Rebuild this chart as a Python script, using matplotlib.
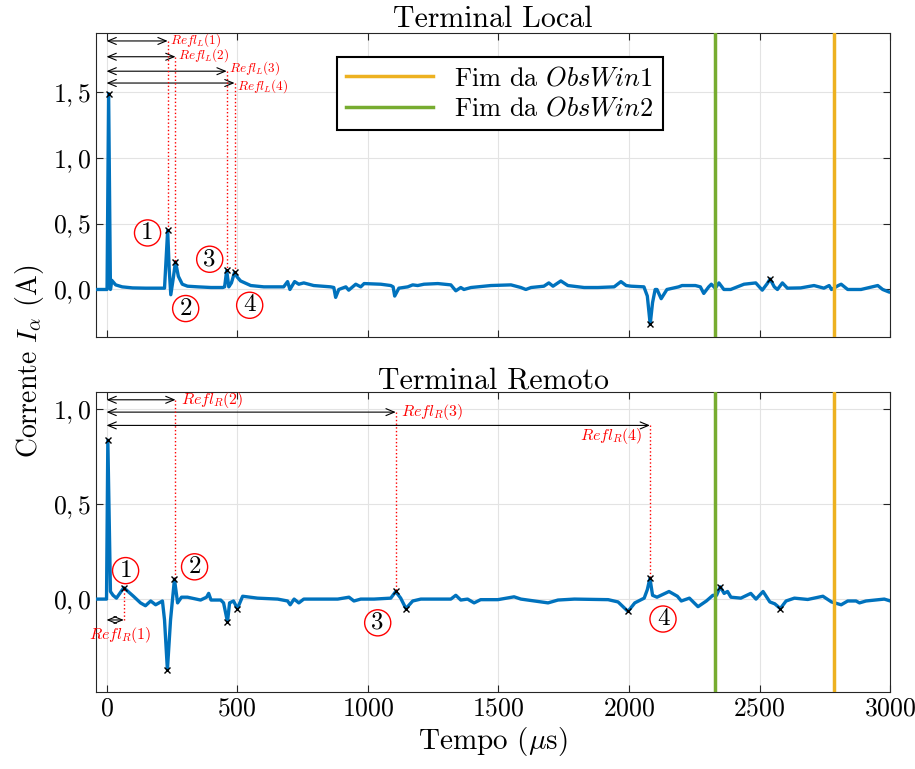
import numpy as np
import matplotlib
matplotlib.use("Agg")
import matplotlib.pyplot as plt
from matplotlib.ticker import FixedLocator, FixedFormatter

plt.rcParams['font.family'] = 'serif'
plt.rcParams['font.serif'] = ['cmr10']
plt.rcParams['mathtext.fontset'] = 'cm'
plt.rcParams['axes.unicode_minus'] = False
plt.rcParams['axes.formatter.use_mathtext'] = True

# ---- data ----
t_local = [-40, 2, 8, 15, 20, 35, 60, 100, 150, 200, 222, 234, 240, 246, 255, 264, 275, 290,
           310, 350, 400, 445, 452, 460, 468, 478, 490, 500, 513, 552, 602, 678, 693, 702,
           720, 736, 755, 793, 858, 870, 877, 889, 916, 927, 954, 973, 986, 1050, 1088, 1097,
           1103, 1119, 1153, 1172, 1191, 1215, 1268, 1318, 1337, 1356, 1368, 1395, 1471, 1548,
           1586, 1605, 1625, 1674, 1693, 1709, 1739, 1766, 1828, 1881, 1943, 1969, 1989, 2008,
           2057, 2070, 2081, 2090, 2100, 2107, 2123, 2145, 2190, 2203, 2254, 2273, 2286, 2305,
           2315, 2330, 2344, 2363, 2389, 2440, 2485, 2510, 2529, 2540, 2556, 2568, 2587, 2606,
           2657, 2708, 2746, 2766, 2775, 2801, 2812, 2837, 2888, 2952, 2971, 2996, 3000]
i_local = [0.0, 0.0, 1.49, 0.0, 0.07, 0.035, 0.02, 0.012, 0.01, 0.01, 0.01, 0.45, 0.15, -0.04,
           0.08, 0.21, 0.1, 0.04, 0.025, 0.02, 0.015, 0.015, 0.02, 0.145, 0.02, 0.05, 0.13,
           0.095, 0.065, 0.03, 0.02, 0.02, 0.06, 0.0, 0.06, 0.04, 0.05, 0.03, 0.02, 0.015, -0.06,
           0.0, 0.02, -0.005, 0.04, 0.02, 0.045, 0.04, 0.03, 0.02, -0.05, 0.01, 0.02, 0.035,
           0.03, 0.04, 0.045, 0.035, -0.01, 0.015, 0.0, 0.015, 0.03, 0.035, 0.015, 0.0, 0.015,
           0.025, 0.05, 0.025, 0.065, 0.03, 0.015, 0.015, 0.02, 0.06, 0.03, 0.025, 0.02, -0.05,
           -0.265, -0.1, 0.0, 0.0, -0.07, 0.0, 0.02, 0.03, 0.03, 0.02, -0.03, 0.02, 0.04, 0.01,
           0.05, 0.0, 0.0, 0.04, 0.05, -0.005, 0.045, 0.08, 0.02, 0.0, 0.05, 0.01, 0.012, 0.03,
           0.01, 0.03, 0.0, 0.03, 0.04, 0.0, 0.0, 0.03, 0.0, -0.02, -0.02]

t_remote = [-40, 0, 5, 15, 25, 38, 66, 103, 130, 149, 169, 188, 214, 222, 233, 245, 260, 272,
            287, 310, 360, 383, 391, 400, 437, 448, 463, 471, 486, 501, 521, 578, 655, 693, 703,
            718, 736, 755, 832, 885, 928, 947, 973, 1024, 1088, 1107, 1126, 1146, 1172, 1203,
            1318, 1337, 1356, 1382, 1407, 1432, 1498, 1560, 1586, 1690, 1728, 1791, 1920, 1958,
            1996, 2022, 2058, 2070, 2080, 2090, 2107, 2153, 2185, 2200, 2231, 2264, 2296, 2321,
            2335, 2349, 2364, 2377, 2390, 2428, 2466, 2486, 2513, 2539, 2558, 2579, 2601, 2633,
            2684, 2742, 2775, 2812, 2837, 2869, 2882, 2907, 2977, 3000]
i_remote = [0.0, 0.0, 0.837, 0.04, 0.02, 0.005, 0.06, 0.015, -0.02, -0.035, -0.01, -0.03,
            -0.01, -0.11, -0.373, -0.11, 0.105, -0.02, 0.01, 0.01, -0.005, 0.01, 0.03, -0.005,
            -0.005, -0.02, -0.12, -0.02, -0.01, -0.05, 0.015, 0.005, 0.0, -0.01, -0.03, 0.0,
            -0.02, 0.0, 0.0, 0.0, 0.01, -0.01, 0.0, 0.0, 0.005, 0.04, 0.005, -0.05, -0.01, 0.0,
            0.0, 0.02, -0.005, 0.0, -0.02, -0.003, -0.003, 0.012, 0.0, -0.02, -0.005, 0.0,
            -0.003, -0.015, -0.065, -0.02, 0.005, 0.05, 0.11, 0.02, 0.01, 0.04, 0.015, -0.01,
            0.005, -0.04, -0.01, 0.02, 0.02, 0.065, 0.03, 0.04, 0.01, 0.005, 0.03, 0.0, 0.04,
            -0.015, -0.025, -0.05, -0.01, 0.005, -0.002, 0.015, -0.015, -0.03, -0.01, -0.01,
            -0.02, -0.01, 0.0, -0.01]

# detected peaks (x markers)
pk_local_t = [8, 234, 264, 460, 490, 2081, 2540]
pk_local_v = [1.49, 0.45, 0.21, 0.145, 0.13, -0.265, 0.08]
pk_remote_t = [5, 66, 233, 260, 463, 501, 1107, 1146, 1996, 2080, 2349, 2579]
pk_remote_v = [0.837, 0.06, -0.373, 0.105, -0.12, -0.05, 0.04, -0.05, -0.065, 0.11, 0.065, -0.05]

# reflections: arrival times, level of the arrow
refl_local_t = [234, 264, 460, 490]
refl_local_v = [0.45, 0.21, 0.145, 0.13]
refl_local_y = [1.89, 1.77, 1.66, 1.57]
refl_remote_t = [66, 264, 1107, 2080]
refl_remote_v = [0.06, 0.105, 0.04, 0.11]
refl_remote_y = [-0.11, 1.05, 0.985, 0.915]

# circled numbers positions
circ_local = [(157, 0.43), (303, -0.145), (395, 0.23), (548, -0.12)]
circ_remote = [(73, 0.15), (337, 0.17), (1038, -0.125), (2130, -0.105)]

obswin1 = 2785
obswin2 = 2329

blue = '#0072BD'
orange = '#EDB120'
green = '#77AC30'

fig = plt.figure(figsize=(9.15, 7.69), dpi=100)
ax1 = fig.add_axes([0.105, 0.562, 0.868, 0.395])
ax2 = fig.add_axes([0.105, 0.100, 0.868, 0.390])


def style(ax, yticks, ylabels):
    ax.set_xlim(-40, 3000)
    ax.xaxis.set_major_locator(FixedLocator([0, 500, 1000, 1500, 2000, 2500, 3000]))
    ax.yaxis.set_major_locator(FixedLocator(yticks))
    ax.yaxis.set_major_formatter(FixedFormatter(ylabels))
    ax.grid(True, color='#e3e3e3', lw=0.8)
    ax.set_axisbelow(True)
    ax.tick_params(direction='in', top=True, right=True, labelsize=18.5, length=5,
                   color='#262626', width=0.8)
    for s in ax.spines.values():
        s.set_color('#262626')
        s.set_linewidth(0.8)


def circled(ax, x, y, n):
    ax.text(x, y, str(n), fontsize=18, ha='center', va='center', zorder=6,
            bbox=dict(boxstyle='circle,pad=0.08', fc='white', ec='red', lw=1.0))


# ---- top: terminal local ----
ax1.plot(t_local, i_local, color=blue, lw=2.4, zorder=3)
l1 = ax1.axvline(obswin1, color=orange, lw=2.5, zorder=4)
l2 = ax1.axvline(obswin2, color=green, lw=2.5, zorder=4)
ax1.plot(pk_local_t, pk_local_v, 'x', color='k', ms=5, mew=1.0, zorder=5)
lab_dy = [0.01, 0.01, 0.025, -0.02]
for k, (t, v, y) in enumerate(zip(refl_local_t, refl_local_v, refl_local_y)):
    ax1.annotate('', xy=(t, y), xytext=(0, y),
                 arrowprops=dict(arrowstyle='<->,head_length=0.6,head_width=0.25',
                                 color='k', lw=0.8, shrinkA=0, shrinkB=0))
    ax1.plot([t, t], [y, v], ':', color='red', lw=1.0, zorder=4)
    ax1.text(t + 8, y + lab_dy[k], r'$Refl_L(%d)$' % (k + 1), color='red', fontsize=9.5,
             ha='left', va='center')
for k, (x, y) in enumerate(circ_local):
    circled(ax1, x, y, k + 1)

style(ax1, [0, 0.5, 1.0, 1.5], [r'$0,0$', r'$0,5$', r'$1,0$', r'$1,5$'])
ax1.set_ylim(-0.36, 1.95)
ax1.tick_params(labelbottom=False)
ax1.set_title('Terminal Local', fontsize=21.5, pad=3)
leg = ax1.legend([l1, l2], [r'Fim da $ObsWin1$', r'Fim da $ObsWin2$'], loc='upper left',
                 bbox_to_anchor=(0.303, 0.921), borderaxespad=0, fontsize=19,
                 fancybox=False, edgecolor='k', framealpha=1, handlelength=3.3,
                 borderpad=0.35, labelspacing=0.25, handletextpad=0.8)
leg.get_frame().set_linewidth(1.5)

# ---- bottom: terminal remoto ----
ax2.plot(t_remote, i_remote, color=blue, lw=2.4, zorder=3)
ax2.axvline(obswin1, color=orange, lw=2.5, zorder=4)
ax2.axvline(obswin2, color=green, lw=2.5, zorder=4)
ax2.plot(pk_remote_t, pk_remote_v, 'x', color='k', ms=5, mew=1.0, zorder=5)
for k, (t, v, y) in enumerate(zip(refl_remote_t, refl_remote_v, refl_remote_y)):
    ax2.annotate('', xy=(t, y), xytext=(0, y),
                 arrowprops=dict(arrowstyle='<->,head_length=0.6,head_width=0.25',
                                 color='k', lw=0.8, shrinkA=0, shrinkB=0))
    ax2.plot([t, t], [y, v], ':', color='red', lw=1.0, zorder=4)
lab = r'$Refl_R(%d)$'
ax2.text(54, -0.19, lab % 1, color='red', fontsize=11.5, ha='center', va='center')
ax2.text(285, 1.05, lab % 2, color='red', fontsize=11.5, ha='left', va='center')
ax2.text(1127, 0.985, lab % 3, color='red', fontsize=11.5, ha='left', va='center')
ax2.text(2050, 0.86, lab % 4, color='red', fontsize=11.5, ha='right', va='center')
for k, (x, y) in enumerate(circ_remote):
    circled(ax2, x, y, k + 1)

style(ax2, [0, 0.5, 1.0], [r'$0,0$', r'$0,5$', r'$1,0$'])
ax2.set_ylim(-0.49, 1.09)
ax2.set_title('Terminal Remoto', fontsize=21.5, pad=3)
ax2.set_xlabel(r'Tempo ($\mu$s)', fontsize=21, labelpad=3)

fig.text(0.032, 0.53, r'Corrente $I_\alpha$ (A)', rotation=90, fontsize=20,
         ha='center', va='center')

fig.savefig('out.png', dpi=100)
